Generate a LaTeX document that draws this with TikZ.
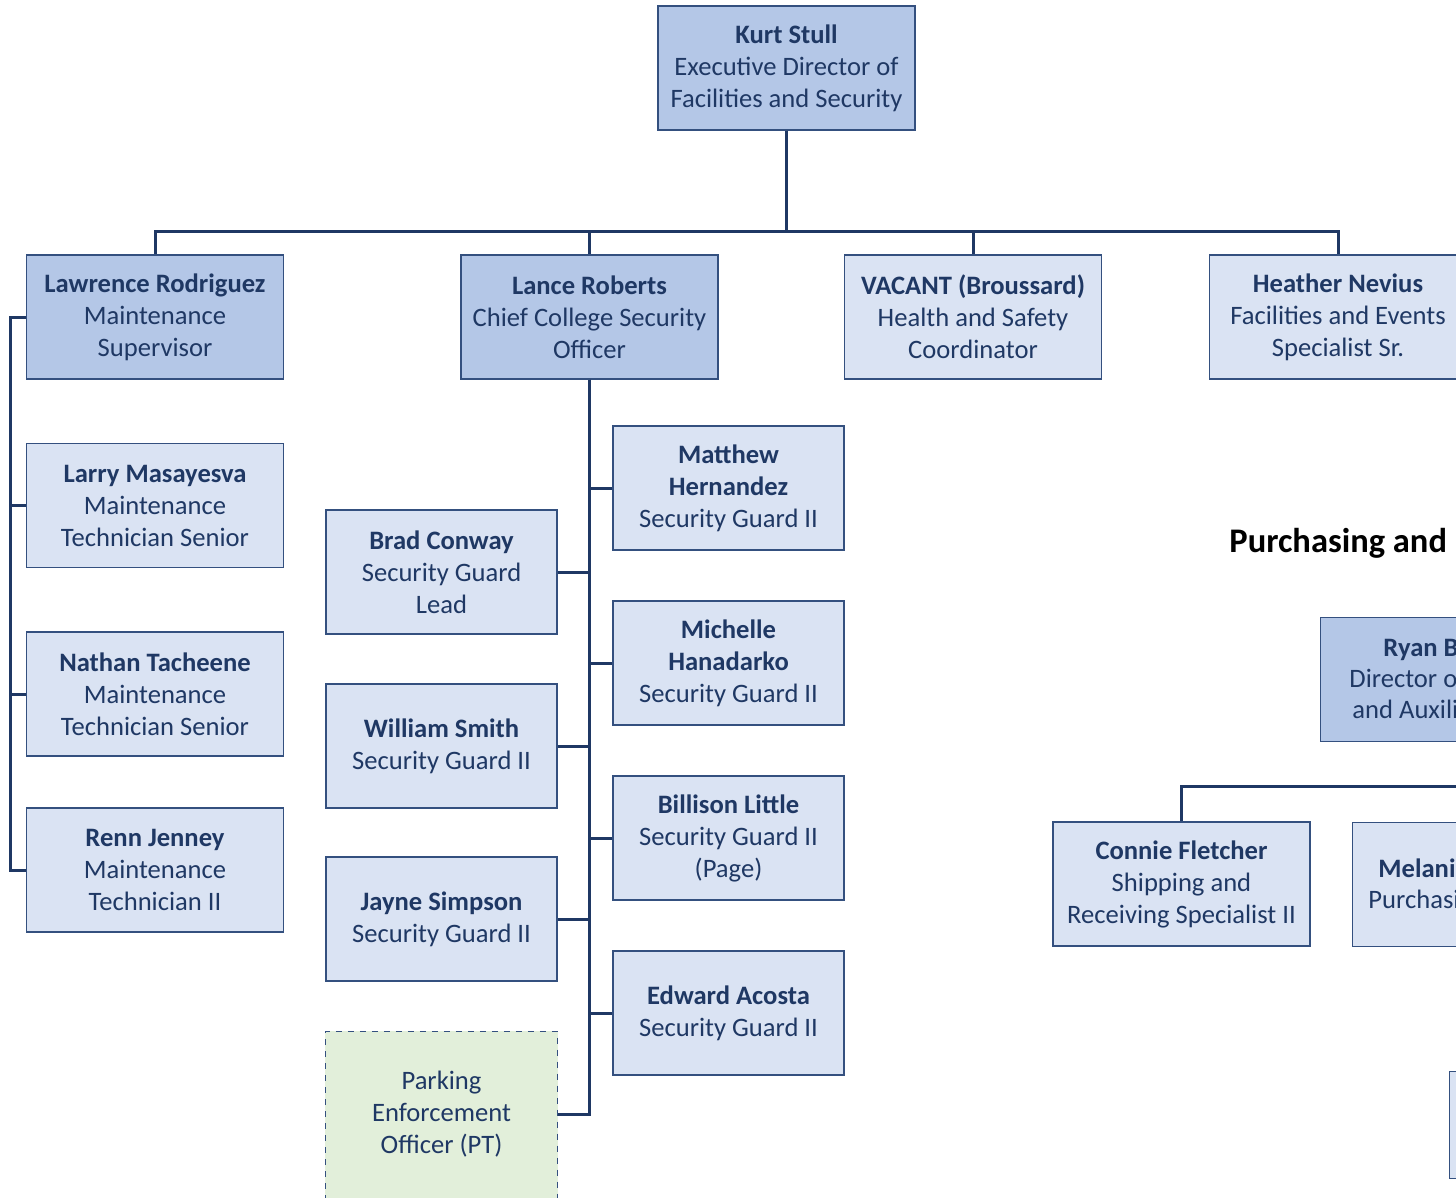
\documentclass[tikz,border=0pt]{standalone}
\usepackage{fontspec}
\setmainfont{Carlito}
\definecolor{navy}{HTML}{1F3864}
\definecolor{boxline}{HTML}{34507F}
\definecolor{bluedark}{HTML}{B4C7E7}
\definecolor{bluelight}{HTML}{DAE3F3}
\definecolor{greenlight}{HTML}{E2EFDA}
\pgfdeclarelayer{bg}
\pgfsetlayers{bg,main}
\begin{document}
\begin{tikzpicture}[x=0.5pt,y=-0.5pt,
  box/.style={draw=boxline, line width=0.7pt, minimum width=128.5pt, minimum height=62pt,
    align=center, text=navy, inner sep=0pt, font=\fontsize{13.3}{16}\selectfont},
  mgr/.style={box, fill=bluedark},
  staff/.style={box, fill=bluelight},
  narrow/.style={minimum width=115.5pt},
  conn/.style={draw=navy, line width=1.5pt},
  part/.style={anchor=base west, inner sep=0pt, text=navy, font=\fontsize{13.3}{16}\selectfont},
  pt/.style={draw=boxline, line width=0.7pt, dashed, fill=greenlight},
]
\useasboundingbox (0,0) rectangle (1456,1198);
\clip (0,0) rectangle (1456,1198);

% top level
\node[mgr] (kurt) at (786.5,68) {\textbf{Kurt Stull}\\Executive Director of\\Facilities and Security};

% second row
\node[mgr] (lawrence) at (155,317) {\textbf{Lawrence Rodriguez}\\Maintenance\\Supervisor};
\node[mgr] (lance) at (589.5,317) {\textbf{Lance Roberts}\\Chief College Security\\Officer};
\node[staff] (vacant) at (973,317) {\textbf{VACANT (Broussard)}\\Health and Safety\\Coordinator};
\node[staff] (heather) at (1338,317) {\textbf{Heather Nevius}\\Facilities and Events\\Specialist Sr.};

% maintenance
\node[staff] (larry) at (155,505.5) {\textbf{Larry Masayesva}\\Maintenance\\Technician Senior};
\node[staff] (nathan) at (155,694) {\textbf{Nathan Tacheene}\\Maintenance\\Technician Senior};
\node[staff] (renn) at (155,870) {\textbf{Renn Jenney}\\Maintenance\\Technician II};

% security right column
\node[staff,narrow] (matthew) at (728.5,488) {\textbf{Matthew}\\\textbf{Hernandez}\\Security Guard II};
\node[staff,narrow] (michelle) at (728.5,663) {\textbf{Michelle}\\\textbf{Hanadarko}\\Security Guard II};
\node[staff,narrow] (billison) at (728.5,838) {\textbf{Billison Little}\\Security Guard II\\(Page)};
\node[staff,narrow] (edward) at (728.5,1013) {\textbf{Edward Acosta}\\Security Guard II};

% security left column
\node[staff,narrow] (brad) at (441.5,572) {\textbf{Brad Conway}\\Security Guard\\Lead};
\node[staff,narrow] (william) at (441.5,746) {\textbf{William Smith}\\Security Guard II};
\node[staff,narrow] (jayne) at (441.5,919) {\textbf{Jayne Simpson}\\Security Guard II};
\node[box,narrow,draw=none,minimum height=82pt] (parking) at (441.5,1114) {Parking\\Enforcement\\Officer (PT)};
\begin{pgfonlayer}{bg}
  \path[pt] ([yshift=-20pt]parking.south west) -- (parking.north west) -- (parking.north east) -- ([yshift=-20pt]parking.south east);
\end{pgfonlayer}

% purchasing section (cut at the right edge)
\node[anchor=west, inner sep=0pt, font=\fontsize{17.25}{20}\selectfont\bfseries] (purch) at (1229,543) {Purchasing and};
\node[mgr, anchor=north west] (ryan) at (1320,617) {};
\node[part] (ryan1) at (1383,656) {\textbf{Ryan B}};
\node[part] (ryan2) at (1349,687) {Director o};
\node[part] (ryan3) at (1352,718) {and Auxili};
\node[staff] (connie) at (1181.5,884) {\textbf{Connie Fletcher}\\Shipping and\\Receiving Specialist II};
\node[staff, anchor=north west] (melanie) at (1352,822) {};
\node[part] (mel1) at (1378,877) {\textbf{Melani}};
\node[part] (mel2) at (1368,908) {Purchasi};
\node[staff, anchor=north west, minimum height=53.5pt] (lowbox) at (1449,1071) {};
\coordinate (ryanbus) at (1480,786);

% connectors
\foreach \c in {lawrence,lance,vacant,heather}
  \draw[conn] (kurt.south) -- ++(0,101) -| (\c.north);
\foreach \c in {larry,nathan,renn}
  \draw[conn] (lawrence.west) -- ++(-15,0) |- (\c.west);
\foreach \c in {matthew,michelle,billison,edward}
  \draw[conn] (lance.south) |- (\c.west);
\foreach \c in {brad,william,jayne,parking}
  \draw[conn] (lance.south) |- (\c.east);
\draw[conn] (connie.north) |- (ryanbus);
\end{tikzpicture}
\end{document}
